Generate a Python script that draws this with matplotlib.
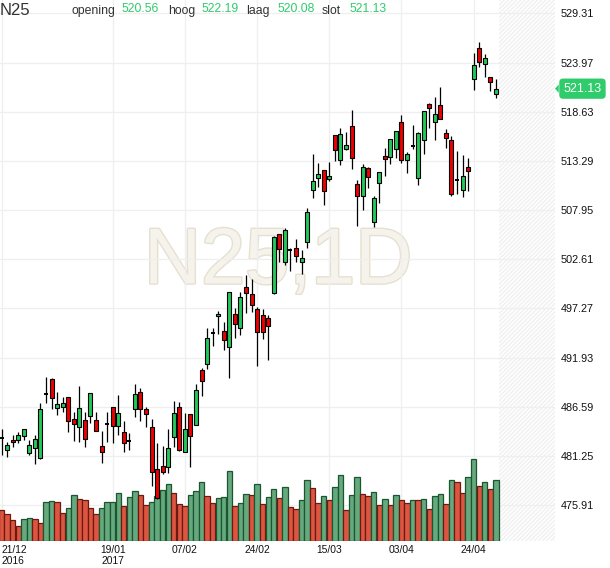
import matplotlib
matplotlib.use("Agg")
import matplotlib.pyplot as plt
import matplotlib.patheffects as pe
from matplotlib.patches import Polygon
from matplotlib.transforms import blended_transform_factory

plt.rcParams['font.family'] = ['Liberation Sans', 'DejaVu Sans']
plt.rcParams['hatch.linewidth'] = 1.0

W, H = 610, 568

# daily OHLC (index 0 = 21/12/2016)
opens = [483.16, 481.85, 482.97, 483.00, 483.37, 481.59, 482.07, 481.05, 487.94, 489.56,
         486.41, 486.56, 487.61, 485.22, 484.35, 485.11, 485.58, 485.11, 482.29, 484.71,
         486.52, 484.49, 483.81, 482.90, 486.31, 488.15, 486.31, 484.35, 479.85, 480.12,
         480.07, 483.27, 486.56, 481.64, 485.76, 484.57, 490.57, 491.19, 494.63, 496.41,
         494.81, 493.04, 496.66, 495.10, 499.59, 498.83, 497.17, 496.52, 496.19, 498.97,
         505.31, 502.27, 503.64, 503.79, 502.27, 504.44, 510.09, 511.46, 512.30, 511.35,
         516.07, 513.35, 514.61, 517.04, 510.74, 509.51, 512.51, 506.62, 510.85, 513.78,
         513.68, 514.54, 517.51, 513.35, 514.94, 511.39, 515.52, 519.43, 517.54, 519.32,
         516.28, 515.56, 511.21, 510.09, 512.62, 522.15, 525.51, 523.78, 522.36, 520.56]
highs = [484.13, 482.75, 483.55, 483.81, 484.20, 482.97, 483.48, 486.96, 489.78, 489.65,
         488.22, 487.61, 487.64, 486.05, 488.80, 486.05, 488.08, 486.05, 483.95, 486.05,
         486.56, 487.86, 485.00, 483.68, 489.02, 488.59, 486.59, 485.29, 482.68, 482.35,
         484.13, 487.17, 487.10, 485.87, 485.80, 489.02, 490.82, 495.10, 495.10, 497.02,
         495.76, 499.05, 497.28, 499.01, 500.89, 500.49, 497.45, 497.17, 496.52, 505.13,
         505.35, 505.96, 503.79, 504.80, 503.61, 508.20, 514.03, 513.02, 512.30, 513.13,
         516.10, 516.83, 516.46, 518.78, 511.21, 512.92, 512.59, 509.44, 512.08, 514.65,
         515.66, 516.55, 518.24, 514.28, 517.22, 516.42, 518.73, 519.61, 520.26, 521.34,
         516.78, 515.99, 514.36, 513.89, 513.57, 524.97, 526.17, 524.86, 522.40, 522.19]
lows = [481.34, 481.09, 482.18, 482.68, 482.97, 481.38, 480.40, 480.88, 487.02, 486.37,
        485.65, 485.98, 483.87, 482.86, 482.79, 482.24, 484.79, 483.98, 480.44, 482.79,
        482.61, 483.48, 481.64, 481.89, 485.50, 485.07, 484.35, 478.01, 476.53, 479.25,
        479.42, 482.24, 481.74, 481.64, 480.07, 484.57, 487.75, 490.68, 493.21, 494.48,
        492.78, 489.67, 494.08, 494.41, 496.80, 496.87, 491.01, 493.94, 491.69, 498.83,
        502.34, 501.98, 501.36, 502.27, 500.97, 503.86, 509.29, 510.48, 508.53, 511.07,
        513.24, 512.87, 514.47, 512.37, 506.25, 507.98, 510.31, 506.14, 508.75, 511.61,
        513.00, 513.60, 513.09, 512.00, 514.54, 510.70, 514.07, 516.89, 515.59, 517.80,
        514.65, 509.44, 509.66, 509.33, 510.05, 520.95, 523.45, 522.43, 520.91, 520.08]
closes = [483.16, 482.40, 482.72, 483.48, 484.13, 482.43, 483.05, 486.31, 487.94, 487.50,
          486.88, 486.96, 485.00, 484.68, 486.48, 483.05, 488.04, 483.98, 481.64, 484.71,
          484.53, 485.87, 482.61, 482.90, 487.94, 486.31, 485.76, 479.50, 476.64, 479.53,
          482.07, 485.87, 481.92, 484.13, 483.37, 488.37, 489.41, 494.02, 494.63, 496.66,
          493.87, 499.01, 495.54, 498.47, 498.97, 497.60, 494.73, 494.73, 495.32, 504.99,
          503.68, 505.75, 503.64, 502.96, 502.71, 507.70, 511.10, 511.83, 509.98, 511.61,
          514.44, 516.21, 514.98, 513.57, 509.44, 512.59, 511.50, 509.29, 512.05, 513.52,
          515.63, 516.53, 513.35, 514.00, 514.94, 516.28, 518.70, 519.06, 518.35, 517.80,
          515.74, 509.66, 511.21, 511.65, 512.16, 523.70, 523.99, 524.43, 521.82, 521.13]
volume = [307, 267, 207, 150, 217, 227, 217, 177, 387, 397,
          387, 277, 327, 457, 417, 407, 327, 267, 327, 387,
          387, 477, 347, 437, 497, 457, 357, 387, 447, 507,
          567, 477, 367, 347, 457, 497, 587, 447, 377, 427,
          437, 697, 347, 377, 467, 457, 567, 367, 437, 517,
          427, 537, 337, 317, 407, 607, 527, 377, 447, 407,
          537, 657, 307, 457, 637, 467, 447, 487, 357, 417,
          357, 457, 407, 377, 407, 407, 417, 317, 447, 467,
          367, 607, 587, 477, 637, 817, 547, 587, 517, 607]
vol_dir = ("rrrrggrrgg" "rrggrrrrgg" "ggrggrrggg" "grrrgggrrg" "ggrggrgrgg"
           "rgrrggrrgr" "ggrggrrgrg" "rgrrgrgrgg" "rgrrggrgrg")

tick_idx = [0, 20, 33, 46, 59, 72, 85]
tick_lbl = ['21/12\n2016', '19/01\n2017', '07/02', '24/02', '15/03', '03/04', '24/04']
price_ticks = [529.31, 523.97, 518.63, 513.29, 507.95, 502.61, 497.27,
               491.93, 486.59, 481.25, 475.91]

c_up, c_dn = '#22c95a', '#ee0000'
v_up, v_up_e = '#65a97d', '#1c5532'
v_dn, v_dn_e = '#dc5541', '#6b1a12'
tag_green = '#2ecc6a'

fig = plt.figure(figsize=(W / 100, H / 100), dpi=100)
rect = [0, 27 / H, 555 / W, 541 / H]
axg = fig.add_axes(rect)                               # grid, hatch, watermark
axv = fig.add_axes(rect, sharex=axg)                   # volume
ax = fig.add_axes(rect, sharex=axg, sharey=axg)        # candles + labels

n = len(closes)
ax.set_xlim(-0.29, 99.64)
ax.set_ylim(472.0, 530.76)

# background
axg.set_axisbelow(True)
axg.grid(True, color='#efefef', lw=0.9)
axg.tick_params(length=0, labelbottom=False, labelleft=False)
for s in axg.spines.values():
    s.set_visible(False)
axg.axvspan(n - 0.4, 100, facecolor='none', edgecolor='#f0f0f0', hatch='/' * 8,
            lw=0, zorder=0.2)
axg.text(0.501, 0.514, 'N25,1D', transform=axg.transAxes, ha='center', va='center',
         fontsize=57, color='#f6f3ec', zorder=0.3,
         path_effects=[pe.withStroke(linewidth=2, foreground='#e5e0d0')])

# volume
axv.axis('off')
axv.patch.set_visible(False)
axv.bar(range(n), volume, width=0.97,
        color=[v_up if d == 'g' else v_dn for d in vol_dir],
        edgecolor=[v_up_e if d == 'g' else v_dn_e for d in vol_dir], lw=0.9)
axv.set_ylim(0, max(volume) / 0.151)

# candles
ax.patch.set_visible(False)
for s in ax.spines.values():
    s.set_visible(False)
for i in range(n):
    o, h, l, c = opens[i], highs[i], lows[i], closes[i]
    ax.vlines(i, l, h, color='black', lw=0.9, zorder=2)
    if o == c:
        ax.hlines(o, i - 0.36, i + 0.36, color='black', lw=1.4, zorder=3)
    else:
        ax.bar(i, c - o, bottom=o, width=0.72, color=c_up if c > o else c_dn,
               edgecolor='black', lw=0.8, zorder=3)

ax.yaxis.tick_right()
ax.set_yticks(price_ticks)
ax.set_yticklabels([f'{t:.2f}' for t in price_ticks])
ax.tick_params(axis='y', length=0, pad=4.3, labelsize=7.8, labelcolor='#111111')
ax.set_xticks(tick_idx)
ax.set_xticklabels(tick_lbl)
ax.tick_params(axis='x', length=0, pad=2.6, labelsize=7.4, labelcolor='#111111')
first = ax.get_xticklabels()[0]
first.set_ha('left')
first.set_multialignment('left')

# last price tag
bt = blended_transform_factory(ax.transAxes, ax.transData)
last = closes[-1]
ax.text(1.0495, last, f'{last:.2f}', transform=bt, ha='center', va='center',
        fontsize=9, color='white', clip_on=False,
        bbox=dict(boxstyle='round,pad=0.33,rounding_size=0.3', fc=tag_green, ec='none'))
ax.add_patch(Polygon([[1.0, last], [1.0068, last + 0.45], [1.0068, last - 0.45]],
                     closed=True, transform=bt, fc=tag_green, ec='none', clip_on=False))

# header
def px(x, y):
    return x / W, 1 - y / H

fig.text(*px(0, 15), 'N25', fontsize=12, color='#333333', va='baseline')
head = [('opening', opens[-1], 71, 121), ('hoog', highs[-1], 168, 201),
        ('laag', lows[-1], 246, 277), ('slot', closes[-1], 322, 349)]
for name, val, xl, xv in head:
    fig.text(*px(xl, 14), name, fontsize=8.8, color='#333333', va='baseline')
    fig.text(*px(xv, 12), f'{val:.2f}', fontsize=8.8, color=tag_green, va='baseline')

fig.savefig('out.png', dpi=100)
